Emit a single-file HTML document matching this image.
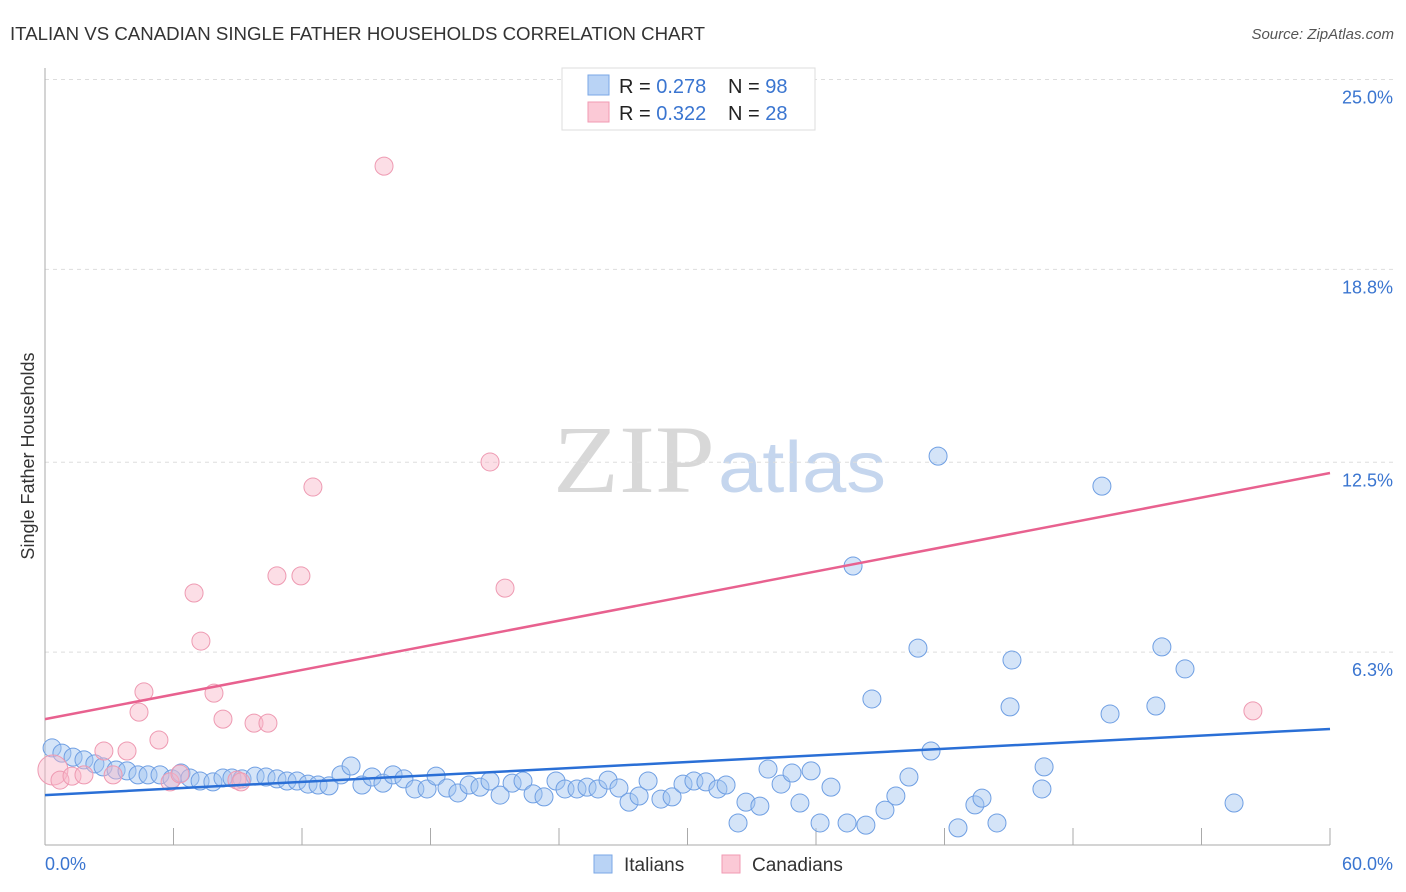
<!DOCTYPE html>
<html><head><meta charset="utf-8">
<style>
body{margin:0;background:#fff;font-family:"Liberation Sans",sans-serif;}
svg{display:block}
</style></head>
<body>
<svg id="chart" width="1406" height="892" viewBox="0 0 1406 892" xmlns="http://www.w3.org/2000/svg" font-family="Liberation Sans, sans-serif">
<text x="10" y="40" font-size="18" fill="#333" textLength="695" lengthAdjust="spacingAndGlyphs">ITALIAN VS CANADIAN SINGLE FATHER HOUSEHOLDS CORRELATION CHART</text>
<text x="1394" y="39" font-size="15" fill="#555" font-style="italic" text-anchor="end">Source: ZipAtlas.com</text>
<g>
<text x="553" y="492" font-family="Liberation Serif, serif" font-size="96" fill="#d8d8d8" textLength="162" lengthAdjust="spacingAndGlyphs">ZIP</text>
<text x="718" y="492" font-size="72" fill="#c5d6ee" textLength="168" lengthAdjust="spacingAndGlyphs">atlas</text>
</g>
<g id="grid"></g>
<g id="axes"></g>
<text transform="translate(34,456) rotate(-90)" font-size="18" fill="#333" text-anchor="middle">Single Father Households</text>
<g id="points"></g>
<g id="lines"></g>
<g>
<rect x="562" y="68" width="253" height="62" fill="#fff" stroke="#ddd"/>
<rect x="588" y="75" width="21" height="20" fill="#b9d3f5" stroke="#7aa7e6"/>
<rect x="588" y="102" width="21" height="20" fill="#fbc9d6" stroke="#f19ab3"/>
<text x="619" y="93" font-size="20" fill="#222">R = <tspan fill="#3a75d0">0.278</tspan></text>
<text x="728" y="93" font-size="20" fill="#222">N = <tspan fill="#3a75d0">98</tspan></text>
<text x="619" y="120" font-size="20" fill="#222">R = <tspan fill="#3a75d0">0.322</tspan></text>
<text x="728" y="120" font-size="20" fill="#222">N = <tspan fill="#3a75d0">28</tspan></text>
</g>
<g>
<rect x="594" y="855" width="18" height="18" fill="#b9d3f5" stroke="#7aa7e6"/>
<text x="624" y="871" font-size="19" fill="#333">Italians</text>
<rect x="722" y="855" width="18" height="18" fill="#fbc9d6" stroke="#f19ab3"/>
<text x="752" y="871" font-size="19" fill="#333">Canadians</text>
</g>
</svg>
<script>
const yTicks=[25,18.8,12.5,6.3];
const yTickLabels=["25.0%","18.8%","12.5%","6.3%"];
const xEndLabels=["0.0%","60.0%"];
const italiansX=[0.33,0.79,1.31,1.82,2.33,2.71,3.32,3.83,4.34,4.81,5.37,5.93,6.35,6.77,7.24,7.84,8.31,8.73,9.20,9.81,10.32,10.83,11.30,11.77,12.28,12.75,13.26,13.82,14.29,14.80,15.27,15.78,16.25,16.76,17.27,17.84,18.26,18.77,19.28,19.80,20.31,20.78,21.25,21.81,22.32,22.79,23.30,23.86,24.28,24.84,25.31,25.82,26.29,26.80,27.27,27.74,28.16,28.76,29.28,29.79,30.30,30.86,31.42,31.80,32.36,32.73,33.38,33.76,34.37,34.88,35.25,35.77,36.19,36.70,37.45,37.73,38.33,38.61,39.22,39.73,40.34,40.76,41.37,41.70,42.63,43.42,43.75,44.45,45.06,45.15,46.55,46.65,49.35,49.73,51.87,52.15,53.23,55.52];
const italiansY=[3.17,3.00,2.87,2.78,2.65,2.55,2.45,2.42,2.29,2.29,2.29,2.16,2.35,2.19,2.09,2.06,2.19,2.19,2.16,2.25,2.22,2.16,2.09,2.09,1.99,1.96,1.93,2.29,2.58,1.96,2.22,2.02,2.29,2.16,1.83,1.83,2.25,1.86,1.70,1.96,1.89,2.09,1.63,2.02,2.09,1.67,1.57,2.09,1.83,1.83,1.89,1.83,2.12,1.86,1.40,1.60,2.09,1.50,1.57,1.99,2.09,2.06,1.83,1.96,0.72,1.40,1.27,2.48,1.99,2.35,1.37,2.42,0.72,1.89,0.72,9.11,0.65,4.77,1.14,1.60,2.22,6.43,3.07,12.70,0.56,1.31,1.53,0.72,4.51,6.04,1.83,2.55,11.72,4.28,4.54,6.47,5.75,1.37];
const canadiansX=[0.37,0.70,1.26,1.82,2.75,3.18,3.83,4.39,4.62,5.32,5.84,6.30,6.96,7.28,7.89,8.31,8.96,9.15,9.76,10.41,10.83,11.95,12.51,15.83,20.78,21.48,56.40];
const canadiansY=[2.45,2.12,2.25,2.29,3.07,2.29,3.07,4.34,5.00,3.43,2.06,2.32,8.23,6.66,4.96,4.11,2.12,2.06,3.98,3.98,8.79,8.79,11.69,22.17,12.51,8.39,4.38];
const trendItalians=[1.63,3.79];
const trendCanadians=[4.11,12.15];
const NS="http://www.w3.org/2000/svg";
const X0=45,X1=1330,Y0=845,YT=79.5;
const xs=v=>X0+(v/60)*(X1-X0);
const ys=v=>Y0-(v/25)*(Y0-YT);
function mk(tag,attrs,parent){const e=document.createElementNS(NS,tag);for(const k in attrs)e.setAttribute(k,attrs[k]);parent.appendChild(e);return e;}
const grid=document.getElementById('grid'),axes=document.getElementById('axes'),pts=document.getElementById('points'),lines=document.getElementById('lines');
yTicks.forEach((t,i)=>{
 const l=mk('line',{x1:X0,x2:1393,y1:ys(t),y2:ys(t),stroke:'#ddd','stroke-dasharray':'4,4'},grid);
 
 
 const tx=mk('text',{x:1393,y:ys(t)+24,'font-size':18,fill:'#3a75d0','text-anchor':'end'},axes);
 tx.textContent=yTickLabels[i];
 
 
});
const la=mk('line',{x1:X0,x2:X0,y1:68,y2:Y0,stroke:'#aaa'},axes);


const lb=mk('line',{x1:X0,x2:X1,y1:Y0,y2:Y0,stroke:'#aaa'},axes);


for(let v=6;v<=60;v+=6){
 const tk=mk('line',{x1:xs(v),x2:xs(v),y1:828,y2:Y0,stroke:'#aaa'},axes);
 
 
}
const xl0=mk('text',{x:45,y:870,'font-size':18,fill:'#3a75d0'},axes);
xl0.textContent=xEndLabels[0];


const xl1=mk('text',{x:1393,y:870,'font-size':18,fill:'#3a75d0','text-anchor':'end'},axes);
xl1.textContent=xEndLabels[1];


italiansX.forEach((x,i)=>{
 const c=mk('circle',{cx:xs(x),cy:ys(italiansY[i]),r:9,fill:'rgba(160,196,240,0.45)',stroke:'#6f9fe3','stroke-width':1},pts);
 
 
});
canadiansX.forEach((x,i)=>{
 const c=mk('circle',{cx:xs(x),cy:ys(canadiansY[i]),r:i===0?15:9,fill:'rgba(248,182,200,0.45)',stroke:'#ee9ab2','stroke-width':1},pts);
 
 
});
const tb=mk('line',{x1:xs(0),x2:xs(60),y1:ys(trendItalians[0]),y2:ys(trendItalians[1]),stroke:'#2a6fd6','stroke-width':2.5},lines);


const tp=mk('line',{x1:xs(0),x2:xs(60),y1:ys(trendCanadians[0]),y2:ys(trendCanadians[1]),stroke:'#e8618f','stroke-width':2.5},lines);


</script>
</body></html>
